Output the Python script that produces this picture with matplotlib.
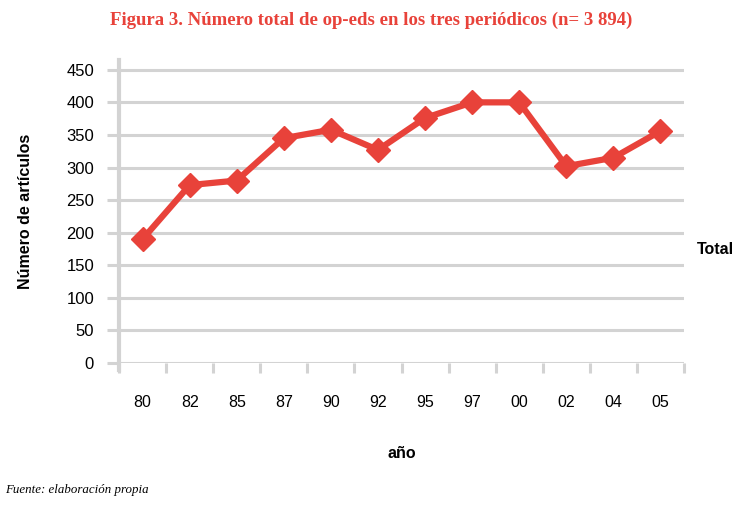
import matplotlib
matplotlib.use("Agg")
import matplotlib.pyplot as plt
import numpy as np

years = ["80", "82", "85", "87", "90", "92", "95", "97", "00", "02", "04", "05"]
totals = [190, 273, 280, 345, 358, 327, 376, 400, 400, 302, 315, 356]
yticks = [0, 50, 100, 150, 200, 250, 300, 350, 400, 450]

red = "#e8423a"
grid = "#d3d3d3"

fig = plt.figure(figsize=(7.42, 5.05), dpi=100)
ax = fig.add_axes([119/742, 1-363/505, (684-119)/742, (363-60)/505])

x = np.arange(len(years))
ax.plot(x, totals, color=red, lw=4.5, marker="D", markersize=12,
        markeredgecolor=red, markerfacecolor=red, zorder=5, clip_on=False)

ax.set_xlim(-0.5, len(years) - 0.5)
ax.set_ylim(0, 465)
ax.set_yticks(yticks)
ax.set_yticklabels([str(v) for v in yticks], fontsize=12, family="Liberation Sans")
ax.yaxis.grid(True, color=grid, lw=2.2)
ax.set_axisbelow(True)
ax.tick_params(axis="y", length=9, width=2.2, color=grid, pad=9)

ax.set_xticks(x)
ax.set_xticklabels(years, fontsize=11.5, family="Liberation Sans")
ax.set_xticks(np.arange(len(years) + 1) - 0.5, minor=True)
ax.tick_params(axis="x", which="major", length=0, pad=23)
ax.tick_params(axis="x", which="minor", length=7, width=2.2, color=grid)

for s in ["top", "right", "bottom"]:
    ax.spines[s].set_visible(False)
ax.spines["left"].set_color(grid)
ax.spines["left"].set_linewidth(3)
ax.spines["left"].set_bounds(-10, 465)

ax.set_ylabel("Número de artículos", fontsize=11.5, fontweight="bold",
              family="Liberation Sans", labelpad=24)
ax.set_xlabel("año", fontsize=11.5, fontweight="bold", family="Liberation Sans", labelpad=26)

fig.text(0.5, 1-20/505, "Figura 3. Número total de op-eds en los tres periódicos (n= 3 894)",
         color=red, fontsize=13.5, fontweight="bold", family="Liberation Serif",
         ha="center", va="center")
fig.text(697/742, 1-250/505, "Total", fontsize=11.5, fontweight="bold",
         family="Liberation Sans", ha="left", va="center")
fig.text(5/742, 1-490/505, "Fuente: elaboración propia", fontsize=9.3, style="italic",
         family="Liberation Serif", ha="left", va="center")

fig.savefig("out.png", dpi=100)
